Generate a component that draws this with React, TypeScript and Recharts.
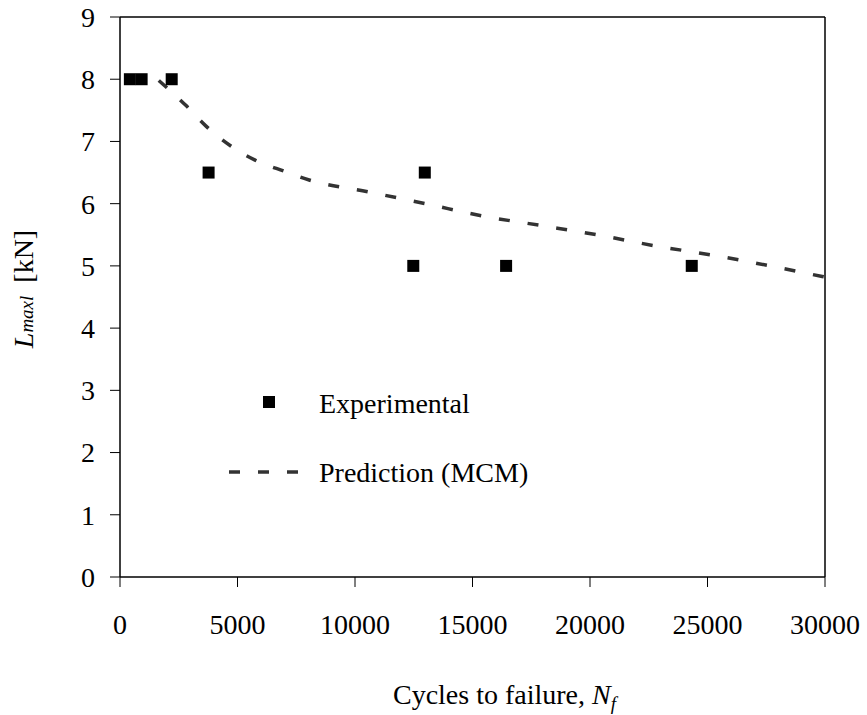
import React from "react";
import {
  ComposedChart,
  Line,
  Scatter,
  XAxis,
  YAxis,
  ReferenceLine,
} from "recharts";

// Experimental data
const expCycles = [420, 920, 2200, 3770, 12480, 12970, 16430, 24330];
const expLoad = [8, 8, 8, 6.5, 5, 6.5, 5, 5];

// Prediction (MCM)
const predCycles = [1650, 2800, 3650, 4700, 5750, 7000, 8050, 10550, 13000, 15450, 17900, 20300, 22800, 25250, 30000];
const predLoad = [7.98, 7.58, 7.25, 6.93, 6.7, 6.52, 6.38, 6.19, 6.0, 5.8, 5.65, 5.5, 5.32, 5.17, 4.82];

const xTicks = [0, 5000, 10000, 15000, 20000, 25000, 30000];
const yTicks = [0, 1, 2, 3, 4, 5, 6, 7, 8, 9];

const expData = expCycles.map((x, i) => ({ x, y: expLoad[i] }));
const predData = predCycles.map((x, i) => ({ x, y: predLoad[i] }));

const FONT = "'Liberation Serif', 'Times New Roman', serif";
const FS = 28;

const Square = (props: any) => {
  const { cx, cy } = props;
  if (cx == null || cy == null) return null;
  return <rect x={cx - 6} y={cy - 6} width={12} height={12} fill="#000" />;
};

const XTitle = (props: any) => {
  const vb = props.viewBox || { x: 0, y: 0, width: 0, height: 0 };
  const cx = vb.x + vb.width / 2 + 32;
  const by = vb.y + 127;
  return (
    <text x={cx} y={by} textAnchor="middle" fontFamily={FONT} fontSize={FS} fill="#000">
      Cycles to failure,{" "}
      <tspan fontStyle="italic">N</tspan>
      <tspan fontStyle="italic" fontSize={19} dy={6}>f</tspan>
    </text>
  );
};

const YTitle = (props: any) => {
  const vb = props.viewBox || { x: 0, y: 0, width: 0, height: 0 };
  const bx = 33;
  const cy = vb.y + vb.height / 2 - 8;
  return (
    <text
      x={bx}
      y={cy}
      textAnchor="middle"
      transform={`rotate(-90 ${bx} ${cy})`}
      fontFamily={FONT}
      fontSize={FS}
      fill="#000"
    >
      <tspan fontStyle="italic">L</tspan>
      <tspan fontStyle="italic" fontSize={19}>maxl</tspan>
      <tspan dx={6}> [kN]</tspan>
    </text>
  );
};

export default function App() {
  return (
    <div style={{ position: "absolute", left: 0, top: 0, width: 867, height: 715, background: "#fff" }}>
      <ComposedChart
        width={867}
        height={715}
        margin={{ top: 17, right: 42, bottom: 0, left: 0 }}
      >
        <XAxis
          dataKey="x"
          type="number"
          domain={[0, 30000]}
          ticks={xTicks}
          interval={0}
          height={138}
          tickSize={10}
          tickMargin={27}
          axisLine={{ stroke: "#000", strokeWidth: 1.5 }}
          tickLine={{ stroke: "#000", strokeWidth: 1 }}
          tick={{ fontFamily: FONT, fontSize: FS, fill: "#000" }}
          label={<XTitle />}
        />
        <YAxis
          dataKey="y"
          type="number"
          domain={[0, 9]}
          ticks={yTicks}
          interval={0}
          width={120}
          tickSize={10}
          tickMargin={15}
          axisLine={{ stroke: "#000", strokeWidth: 1.5 }}
          tickLine={{ stroke: "#000", strokeWidth: 1 }}
          tick={{ fontFamily: FONT, fontSize: FS, fill: "#000" }}
          label={<YTitle />}
        />
        <ReferenceLine y={9} stroke="#000" strokeWidth={1.5} />
        <ReferenceLine x={30000} stroke="#000" strokeWidth={1.5} />
        <Line
          data={predData}
          dataKey="y"
          type="monotone"
          stroke="#333333"
          strokeWidth={3.5}
          strokeDasharray="11 18"
          dot={false}
          activeDot={false}
          isAnimationActive={false}
        />
        <Scatter
          data={expData}
          dataKey="y"
          fill="#000"
          shape={<Square />}
          isAnimationActive={false}
        />
      </ComposedChart>
      <svg
        width={400}
        height={140}
        style={{ position: "absolute", left: 208, top: 368 }}
      >
        <rect x={55} y={28} width={12} height={12} fill="#000" />
        <text x={111} y={35} dominantBaseline="central" fontFamily={FONT} fontSize={FS} fill="#000">
          Experimental
        </text>
        <line x1={21} y1={104} x2={90} y2={104} stroke="#333333" strokeWidth={3.5} strokeDasharray="11 18" />
        <text x={111} y={104} dominantBaseline="central" fontFamily={FONT} fontSize={FS} fill="#000">
          Prediction (MCM)
        </text>
      </svg>
    </div>
  );
}
